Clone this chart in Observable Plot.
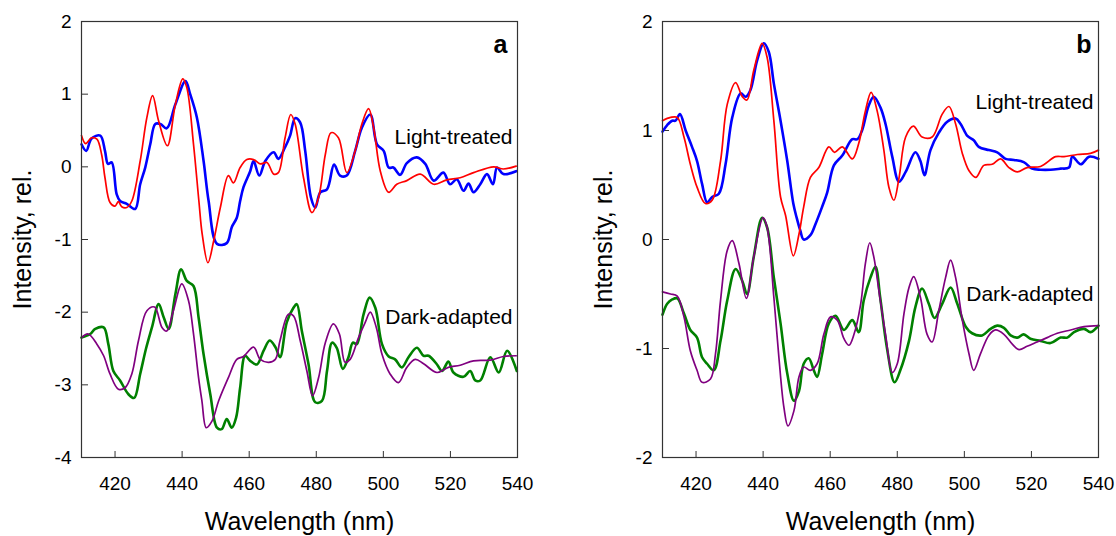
<!DOCTYPE html>
<html>
<head>
<meta charset="utf-8">
<script src="https://cdn.jsdelivr.net/npm/d3@7"></script>
<script src="https://cdn.jsdelivr.net/npm/@observablehq/plot@0.6"></script>
<style>
  html, body { margin: 0; padding: 0; background: #fff; }
  #wrap { display: flex; width: 1116px; height: 536px; }
</style>
</head>
<body>
<div id="wrap"></div>
<script>
// ---------- tick labels ----------
const xTicks = [420, 440, 460, 480, 500, 520, 540];
const aYTicks = [-4, -3, -2, -1, 0, 1, 2];
const bYTicks = [-2, -1, 0, 1, 2];

// ---------- panel a : [wavelength nm, intensity] ----------
const aLightRed = [[410,0.43],[411.2,0.32],[413,0.40],[414.6,0.38],[416,0.17],[417,-0.15],[418.5,-0.49],[420,-0.54],[421,-0.48],[422,-0.55],[423.5,-0.56],[425,-0.47],[427.5,0.08],[429.5,0.68],[431.2,0.98],[433,0.63],[435.6,0.29],[438,0.86],[440.2,1.21],[441.4,1.09],[443.4,0.31],[445,-0.47],[446,-0.93],[447.7,-1.32],[449.4,-1.02],[451.4,-0.56],[453.8,-0.12],[455.3,-0.22],[457.3,-0.01],[459.3,0.10],[461.3,0.10],[463.3,0.04],[465.3,0.06],[467.3,-0.10],[468.7,-0.08],[470.7,0.40],[472.4,0.72],[473.7,0.59],[476.2,-0.15],[478.7,-0.63],[480.7,-0.42],[482.7,0.17],[484.4,0.47],[486.6,0.40],[489.1,-0.08],[491.6,0.22],[493.6,0.59],[495.6,0.80],[497.1,0.54],[499.1,-0.06],[501.6,-0.35],[504,-0.24],[507,-0.19],[511,-0.10],[515,-0.24],[518.9,-0.18],[522.9,-0.15],[526.9,-0.08],[532.9,0.0],[535.8,-0.03],[539.6,0.01]];
const aLightBlue = [[410,0.31],[411.4,0.22],[413,0.39],[415.6,0.43],[417,0.22],[417.9,0.04],[419,0.06],[420.5,-0.38],[421.5,-0.47],[423.5,-0.51],[426,-0.58],[427.5,-0.24],[429,-0.01],[430.5,0.31],[432,0.59],[433.5,0.59],[435.4,0.53],[438,0.86],[441,1.18],[442.4,1.0],[444.4,0.68],[446.4,0.08],[447.9,-0.47],[450.4,-1.06],[453.3,-1.05],[454.8,-0.83],[456.3,-0.70],[457.3,-0.47],[458.3,-0.28],[460.3,-0.06],[461.3,0.08],[463,-0.12],[464.8,0.08],[467.3,0.20],[468.7,0.11],[470.7,0.27],[472.2,0.43],[473.7,0.67],[475.2,0.61],[476.7,0.22],[478.4,-0.42],[479.7,-0.56],[481.2,-0.35],[483.2,-0.31],[485.3,0.03],[487.1,-0.12],[489.1,-0.12],[491.6,0.22],[493.6,0.54],[496.1,0.72],[498.1,0.31],[500.1,0.22],[501.6,-0.01],[503,-0.01],[505,-0.11],[507,0.05],[510,0.13],[512.5,0.04],[515,-0.19],[517.9,-0.08],[519.9,-0.24],[521.9,-0.17],[523.9,-0.33],[525.4,-0.23],[526.9,-0.35],[528.9,-0.24],[530.9,-0.10],[532.7,-0.24],[533.9,-0.01],[535.8,-0.10],[539.6,-0.06]];
const aDarkPurple = [[410,-2.35],[412,-2.30],[414.6,-2.44],[416.6,-2.60],[418.5,-2.85],[421,-3.06],[423,-3.04],[425,-2.85],[427,-2.39],[429.5,-1.98],[431.8,-1.93],[434,-2.21],[435.4,-2.26],[437.4,-1.98],[439.9,-1.61],[441.9,-1.84],[443.4,-2.30],[444.9,-2.90],[445.9,-3.22],[447.2,-3.59],[448.9,-3.50],[450.9,-3.22],[453.8,-2.90],[456.3,-2.65],[458.3,-2.61],[461.3,-2.48],[463.3,-2.65],[465.8,-2.69],[467.8,-2.65],[469.2,-2.39],[471.7,-2.03],[473.2,-2.05],[475.2,-2.39],[477.2,-2.81],[478.9,-3.15],[480.7,-2.90],[482.7,-2.42],[485.1,-2.16],[486.9,-2.30],[488.6,-2.69],[490.1,-2.65],[492.6,-2.35],[494.6,-2.14],[496.1,-2.00],[497.9,-2.21],[499.6,-2.58],[502,-2.85],[504.5,-2.97],[507,-2.76],[509.5,-2.65],[512,-2.71],[516,-2.83],[519.4,-2.76],[522.9,-2.73],[526.9,-2.67],[531.9,-2.66],[535.8,-2.61],[539.6,-2.60]];
const aDarkGreen = [[410,-2.35],[412.6,-2.30],[414.1,-2.23],[416.6,-2.21],[418,-2.44],[419.5,-2.81],[421.5,-2.94],[424,-3.13],[425.7,-3.18],[427.5,-2.85],[429.3,-2.49],[431,-2.21],[433,-1.89],[434.5,-2.07],[436,-2.23],[438,-1.75],[439.7,-1.41],[441.4,-1.57],[443.4,-1.64],[444.9,-2.07],[446.4,-2.58],[448.4,-3.13],[450.4,-3.59],[451.8,-3.61],[453.3,-3.47],[454.8,-3.59],[456.1,-3.45],[457.3,-3.04],[458.8,-2.60],[460.3,-2.67],[462.3,-2.72],[464.3,-2.53],[466.1,-2.39],[467.8,-2.48],[469.2,-2.62],[471.2,-2.14],[473.2,-1.94],[474.2,-1.89],[475.7,-2.26],[477.7,-2.72],[479.7,-3.24],[481.7,-3.22],[483.2,-2.81],[484.7,-2.42],[486.1,-2.49],[487.9,-2.78],[489.6,-2.62],[490.9,-2.42],[492.1,-2.44],[494.1,-2.03],[495.9,-1.80],[497.6,-1.94],[499.6,-2.44],[501.6,-2.61],[503.5,-2.65],[505.5,-2.76],[507.5,-2.62],[510,-2.49],[512,-2.60],[513.5,-2.60],[516,-2.72],[517.5,-2.81],[519.4,-2.68],[520.9,-2.83],[523.9,-2.89],[525.9,-2.81],[527.4,-2.94],[528.9,-2.94],[531.9,-2.62],[534.4,-2.83],[536.9,-2.53],[539.8,-2.81]];

// ---------- panel b : [wavelength nm, intensity] ----------
const bLightRed = [[410,1.09],[412.4,1.12],[414.4,1.12],[416.4,0.94],[418.3,0.69],[420.3,0.48],[422.8,0.33],[424.8,0.36],[427.3,0.72],[429.3,1.24],[431.8,1.44],[433.8,1.31],[435.2,1.28],[437.2,1.55],[439.7,1.80],[441.2,1.67],[443.2,1.09],[445.2,0.39],[446.7,0.22],[449,-0.15],[450.7,0.05],[452.1,0.30],[454.1,0.57],[456.6,0.66],[459.6,0.85],[461.3,0.80],[463.6,0.85],[466.6,0.74],[468.5,0.88],[470.5,1.18],[472.2,1.35],[474,1.18],[476,0.82],[477.5,0.48],[479,0.36],[480.5,0.56],[482.5,0.94],[484.8,1.04],[487.4,0.94],[490.4,0.94],[493.4,1.15],[495.4,1.22],[497.4,1.06],[499.4,0.79],[501.4,0.63],[503.4,0.57],[505.8,0.68],[508.3,0.69],[510.8,0.74],[513.3,0.66],[515.8,0.62],[518.7,0.66],[522.7,0.67],[527.2,0.76],[529.7,0.76],[533.7,0.78],[537.6,0.79],[540,0.82]];
const bLightBlue = [[410,0.99],[411.4,1.05],[412.9,1.09],[413.9,1.09],[415.2,1.15],[416.9,1.00],[418.8,0.85],[420.3,0.72],[421.8,0.51],[423.3,0.34],[424.8,0.39],[426.8,0.42],[428.8,0.69],[430.8,1.12],[433.3,1.34],[434.8,1.31],[436.2,1.37],[438.2,1.64],[440.2,1.80],[441.7,1.72],[443.2,1.43],[445.2,1.09],[447.2,0.72],[449,0.33],[450,0.20],[451.1,0.08],[452.1,0.0],[454.1,0.04],[455.6,0.14],[457.6,0.30],[459.1,0.43],[461.1,0.68],[463.6,0.77],[466.6,0.92],[468.1,0.92],[469.5,1.00],[471.5,1.23],[473,1.31],[475,1.21],[476.5,1.06],[478.5,0.76],[480.5,0.53],[482.5,0.62],[485.4,0.80],[486.9,0.72],[488.1,0.59],[489.9,0.82],[492.4,0.98],[494.9,1.08],[497.4,1.11],[498.9,1.06],[500.9,0.95],[502.8,0.91],[504.3,0.85],[507.3,0.82],[509.8,0.80],[512.3,0.74],[514.8,0.73],[517.7,0.71],[520.2,0.65],[522.7,0.64],[525.7,0.64],[528.7,0.65],[531.2,0.66],[532.2,0.76],[534.7,0.69],[537.2,0.76],[540,0.74]];
const bDarkPurple = [[410,-0.48],[412.4,-0.50],[414.4,-0.52],[416.4,-0.71],[418.3,-1.02],[420.3,-1.20],[421.8,-1.31],[424.3,-1.28],[425.8,-1.05],[427.3,-0.56],[429.3,-0.10],[430.8,-0.01],[432.8,-0.22],[435,-0.54],[437.2,-0.16],[440,0.20],[441.2,0.11],[443.2,-0.53],[444.7,-1.08],[446.2,-1.54],[447.4,-1.71],[449.2,-1.57],[450.7,-1.26],[452.1,-1.17],[454.1,-1.20],[456.1,-1.14],[458.1,-0.87],[460.1,-0.71],[462.1,-0.74],[464.1,-0.91],[465.6,-0.97],[467.1,-0.87],[469.1,-0.59],[470.5,-0.22],[471.8,-0.03],[473,-0.16],[474.8,-0.53],[476.5,-0.87],[478.5,-1.22],[480,-1.14],[482,-0.68],[483.5,-0.44],[484.9,-0.34],[486.9,-0.53],[488.9,-0.87],[490.4,-0.94],[492.4,-0.65],[494.4,-0.35],[495.9,-0.19],[497.4,-0.35],[499.4,-0.74],[501.4,-1.05],[502.8,-1.20],[504.8,-1.05],[507.3,-0.88],[509.3,-0.83],[511.8,-0.87],[514.3,-0.96],[516.3,-1.01],[518.7,-0.98],[521.7,-0.94],[524.7,-0.90],[527.7,-0.86],[531.7,-0.83],[535.7,-0.80],[540,-0.79]];
const bDarkGreen = [[410,-0.69],[411.4,-0.59],[412.9,-0.55],[414.4,-0.54],[416.4,-0.68],[418.3,-0.83],[420.3,-0.90],[421.8,-1.08],[423.3,-1.14],[425.3,-1.20],[427.3,-0.93],[429.3,-0.56],[431.8,-0.27],[433.8,-0.38],[435.2,-0.50],[437.2,-0.16],[439.7,0.20],[441.2,0.11],[443.2,-0.35],[445.2,-0.77],[447.2,-1.23],[449.2,-1.48],[450.7,-1.39],[452.1,-1.14],[453.6,-1.09],[455.1,-1.20],[456.1,-1.26],[457.6,-1.05],[459.6,-0.77],[461.6,-0.70],[464.1,-0.83],[466.6,-0.74],[468.5,-0.85],[470,-0.56],[472,-0.35],[473.5,-0.25],[474.9,-0.53],[476.9,-0.99],[479.2,-1.31],[480.9,-1.20],[483.5,-0.93],[485.4,-0.62],[487.4,-0.45],[489.4,-0.59],[491.1,-0.72],[493.4,-0.59],[495.9,-0.44],[497.9,-0.59],[500.4,-0.80],[502.3,-0.86],[505.3,-0.88],[507.8,-0.82],[509.8,-0.79],[511.8,-0.81],[513.8,-0.88],[515.8,-0.90],[517.7,-0.87],[519.7,-0.91],[522.7,-0.93],[525.7,-0.95],[528.7,-0.90],[530.7,-0.90],[532.7,-0.85],[535.7,-0.82],[537.6,-0.85],[540,-0.79]];

// ---------- annotation text ----------
const seriesLabels = ["Light-treated", "Dark-adapted"];
const aLabelY = [0.41, -2.07];
const bLabelY = [1.26, -0.50];

const FONT = "'Liberation Sans', Arial, Helvetica, sans-serif";
const fmt = d => String(d);

function panel({letter, yDomain, yTicks, light, lightBlue, darkPurple, darkGreen, labelY, letterDx, marginLeft, marginRight}) {
  const plotW = 558 - marginLeft - marginRight;
  const plotH = 536 - 21 - 79;
  return Plot.plot({
    width: 558,
    height: 536,
    marginLeft, marginRight, marginTop: 21, marginBottom: 79,
    x: {domain: [410, 540]},
    y: {domain: yDomain},
    style: {fontFamily: FONT, background: "#fff", color: "#000", overflow: "visible"},
    marks: [
      // tick labels
      Plot.axisX(xTicks, {tickSize: 0, tickPadding: 19, fontSize: 19, tickFormat: fmt, label: null}),
      Plot.axisY(yTicks, {tickSize: 0, tickPadding: 10, fontSize: 19, tickFormat: fmt, label: null}),
      // inward ticks
      Plot.tickX(xTicks.filter(d => d < 540), {x: d => d, insetTop: plotH - 6, stroke: "#333", strokeWidth: 1}),
      Plot.tickY(yTicks.filter(d => d > yDomain[0] && d < yDomain[1]), {y: d => d, insetRight: plotW - 7, stroke: "#333", strokeWidth: 1}),
      // curves
      Plot.line(lightBlue, {x: d => d[0], y: d => d[1], stroke: "#0000ff", strokeWidth: 2.6, curve: "catmull-rom"}),
      Plot.line(light, {x: d => d[0], y: d => d[1], stroke: "#ff0000", strokeWidth: 1.7, curve: "catmull-rom"}),
      Plot.line(darkGreen, {x: d => d[0], y: d => d[1], stroke: "#008000", strokeWidth: 2.6, curve: "catmull-rom"}),
      Plot.line(darkPurple, {x: d => d[0], y: d => d[1], stroke: "#800080", strokeWidth: 1.7, curve: "catmull-rom"}),
      Plot.frame({stroke: "#333", strokeWidth: 1.2}),
      // series labels
      Plot.text(seriesLabels, {y: (d, i) => labelY[i], frameAnchor: "right", textAnchor: "end", dx: -5, fontSize: 21}),
      // panel letter
      Plot.text([letter], {frameAnchor: "top-right", textAnchor: "end", lineAnchor: "bottom", dx: letterDx, dy: 31, fontSize: 25, fontWeight: "bold"}),
      // axis titles
      Plot.text(["Wavelength (nm)"], {frameAnchor: "bottom", textAnchor: "middle", lineAnchor: "middle", dy: 64, fontSize: 25}),
      Plot.text(["Intensity, rel."], {frameAnchor: "left", textAnchor: "middle", lineAnchor: "middle", dx: -59, rotate: -90, fontSize: 25})
    ]
  });
}

const wrap = document.getElementById("wrap");
wrap.appendChild(panel({
  letter: "a", yDomain: [-4, 2], yTicks: aYTicks,
  light: aLightRed, lightBlue: aLightBlue, darkPurple: aDarkPurple, darkGreen: aDarkGreen,
  labelY: aLabelY, letterDx: -10, marginLeft: 81, marginRight: 41
}));
wrap.appendChild(panel({
  letter: "b", yDomain: [-2, 2], yTicks: bYTicks,
  light: bLightRed, lightBlue: bLightBlue, darkPurple: bDarkPurple, darkGreen: bDarkGreen,
  labelY: bLabelY, letterDx: -7, marginLeft: 104, marginRight: 18
}));
</script>
</body>
</html>
